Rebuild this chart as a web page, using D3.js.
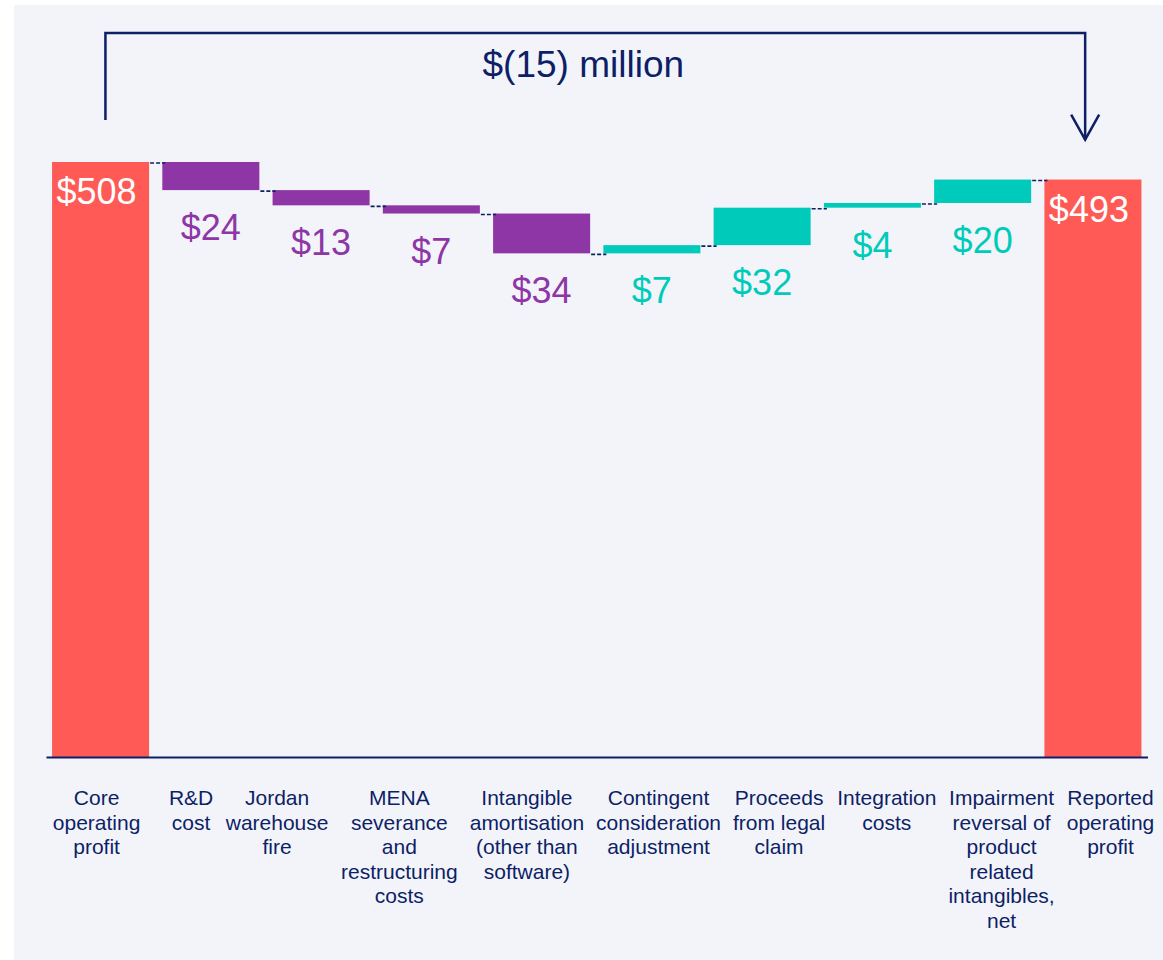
<!DOCTYPE html>
<html>
<head>
<meta charset="utf-8">
<script src="https://cdn.jsdelivr.net/npm/d3@7"></script>
<style>
  body { margin: 0; background: #ffffff; }
  svg { display: block; font-family: "Liberation Sans", Arial, sans-serif; }
</style>
</head>
<body>
<script>
// bridge data (USD millions)
var categories = ["Core operating profit", "R&D cost", "Jordan warehouse fire",
  "MENA severance and restructuring costs", "Intangible amortisation (other than software)",
  "Contingent consideration adjustment", "Proceeds from legal claim", "Integration costs",
  "Impairment reversal of product related intangibles, net", "Reported operating profit"];
// line breaks as in the slide
var tickLabels = [
  ["Core", "operating", "profit"],
  ["R&D", "cost"],
  ["Jordan", "warehouse", "fire"],
  ["MENA", "severance", "and", "restructuring", "costs"],
  ["Intangible", "amortisation", "(other than", "software)"],
  ["Contingent", "consideration", "adjustment"],
  ["Proceeds", "from legal", "claim"],
  ["Integration", "costs"],
  ["Impairment", "reversal of", "product", "related", "intangibles,", "net"],
  ["Reported", "operating", "profit"]
];
var values = [508, -24, -13, -7, -34, 7, 32, 4, 20, 493];
var isTotal = [true, false, false, false, false, false, false, false, false, true];
var bridgeText = "$(15) million";

var W = 1163, H = 960;
var red = "#ff5a55", purple = "#8e36a5", teal = "#00cbbb", navy = "#0d1f66";

var svg = d3.select("body").append("svg")
  .attr("width", W)
  .attr("height", H);

// panel
svg.append("rect")
  .attr("x", 14).attr("y", 5)
  .attr("width", W - 14).attr("height", H - 5)
  .attr("fill", "#f3f4f9");

// running totals
var steps = [];
var run = 0;
values.forEach(function(v, i) {
  if (isTotal[i]) {
    steps.push({i: i, v: v, y0: 0, y1: v, end: v});
    run = v;
  } else {
    steps.push({i: i, v: v, y0: run, y1: run + v, end: run + v});
    run += v;
  }
});

var xScale = d3.scaleBand()
  .domain(d3.range(values.length))
  .range([46, 1147.5])
  .paddingInner(0.12)
  .paddingOuter(0.055);

var yScale = d3.scaleLinear()
  .domain([0, values[0]])
  .range([757, 162]);

function colorOf(d) {
  if (isTotal[d.i]) return red;
  return d.v < 0 ? purple : teal;
}

// bars
svg.selectAll(".bar")
  .data(steps)
  .enter().append("rect")
  .attr("class", "bar")
  .attr("x", function(d) { return xScale(d.i); })
  .attr("width", xScale.bandwidth())
  .attr("y", function(d) { return yScale(Math.max(d.y0, d.y1)); })
  .attr("height", function(d) { return Math.abs(yScale(d.y0) - yScale(d.y1)); })
  .attr("fill", colorOf);

// dashed connectors
svg.selectAll(".conn")
  .data(steps.slice(0, -1))
  .enter().append("line")
  .attr("class", "conn")
  .attr("x1", function(d) { return xScale(d.i) + xScale.bandwidth() + 1; })
  .attr("x2", function(d) { return xScale(d.i + 1) + 3; })
  .attr("y1", function(d) { return yScale(d.end) + 1; })
  .attr("y2", function(d) { return yScale(d.end) + 1; })
  .attr("stroke", navy)
  .attr("stroke-width", 1.6)
  .attr("stroke-dasharray", "4,2");

// value labels
svg.selectAll(".val")
  .data(steps)
  .enter().append("text")
  .attr("class", "val")
  .attr("x", function(d) { return xScale(d.i) + xScale.bandwidth() / 2 + (isTotal[d.i] ? -4 : 0); })
  .attr("y", function(d) {
    if (isTotal[d.i]) return yScale(d.v) + 42;
    return yScale(Math.min(d.y0, d.y1)) + 50;
  })
  .attr("text-anchor", "middle")
  .style("font-size", "36px")
  .attr("fill", function(d) { return isTotal[d.i] ? "#ffffff" : colorOf(d); })
  .text(function(d) { return "$" + Math.abs(d.v); });

// x axis
var axis = svg.append("g")
  .attr("class", "x axis")
  .attr("transform", "translate(0," + yScale(0) + ")")
  .call(d3.axisBottom(xScale).tickSize(0).tickSizeOuter(0).tickFormat(""));
axis.select(".domain")
  .attr("stroke", navy)
  .attr("stroke-width", 2.2);

// category labels, pushed apart where they would overlap
var fontSize = 21, lineH = 24.5, gap = 12;
var labels = axis.selectAll(".tick").append("text")
  .attr("fill", navy)
  .attr("text-anchor", "middle")
  .style("font-size", fontSize + "px")
  .attr("y", 48);
labels.each(function(d) {
  var t = d3.select(this);
  tickLabels[d].forEach(function(line, k) {
    t.append("tspan").attr("x", 0).attr("dy", k === 0 ? 0 : lineH).text(line);
  });
});
var half = [];
labels.each(function(d) { half[d] = this.getBBox().width / 2; });
var pos = d3.range(values.length).map(function(i) { return xScale(i) + xScale.bandwidth() / 2; });
for (var it = 0; it < 300; it++) {
  for (var i = 0; i < pos.length - 1; i++) {
    var need = half[i] + half[i + 1] + gap;
    var dist = pos[i + 1] - pos[i];
    if (dist < need) {
      var s = (need - dist) / 2;
      pos[i] -= s;
      pos[i + 1] += s;
    }
  }
}
labels.each(function(d) {
  var dx = pos[d] - (xScale(d) + xScale.bandwidth() / 2) - 4;
  d3.select(this).selectAll("tspan").attr("x", dx);
});

// bridge arrow from first total to last total
var bx0 = xScale(0) + xScale.bandwidth() * 0.55;
var bx1 = xScale(values.length - 1) + xScale.bandwidth() * 0.42;
var bTop = 33;
svg.append("path")
  .attr("d", "M" + bx0 + "," + (yScale(values[0]) - 42) + "V" + bTop + "H" + bx1 + "V" + (yScale(values[values.length - 1]) - 40))
  .attr("fill", "none")
  .attr("stroke", navy)
  .attr("stroke-width", 2.5);
var tip = yScale(values[values.length - 1]) - 40;
svg.append("path")
  .attr("d", "M" + (bx1 - 14) + "," + (tip - 25) + "L" + bx1 + "," + tip + "L" + (bx1 + 14) + "," + (tip - 25))
  .attr("fill", "none")
  .attr("stroke", navy)
  .attr("stroke-width", 2.5);

// bridge title
svg.append("text")
  .attr("x", (bx0 + bx1) / 2 - 12)
  .attr("y", 77)
  .attr("text-anchor", "middle")
  .style("font-size", "37px")
  .attr("fill", navy)
  .text(bridgeText);
</script>
</body>
</html>
